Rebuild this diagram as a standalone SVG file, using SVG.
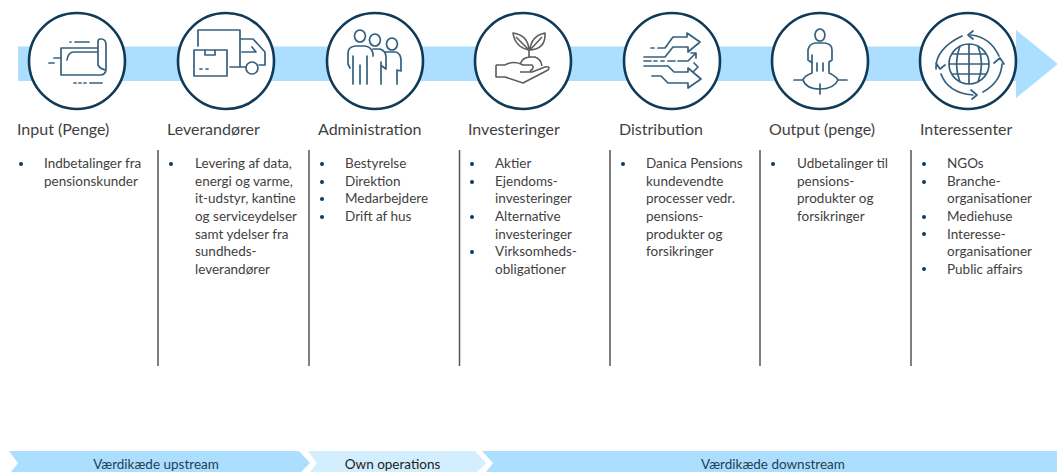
<svg xmlns="http://www.w3.org/2000/svg" width="1057" height="472" viewBox="0 0 1057 472">
<style>
text{font-family:"Lato","Carlito","Liberation Sans",sans-serif;fill:#3f3f3f}
.h{font-size:16px}
.b{font-size:13.5px}
.f{font-size:13.500px;text-anchor:middle;fill:#26404f}
.c{fill:#fff;stroke:#0f3a58;stroke-width:2.6}
.i{fill:none;stroke:#34607f;stroke-width:1.700;stroke-linecap:round;stroke-linejoin:round}
.g{fill:none;stroke:#5c5c5c;stroke-width:1.600;stroke-linejoin:round}
.d{fill:#12395a}
.v{stroke:#555;stroke-width:1.500}
</style>
<rect width="1057" height="472" fill="#fff"/>
<g id="flow-arrow"><path d="M18 46.500H1016V30L1058 64L1016 98V81H18Z" fill="#abdeff"/></g>
<g id="node-input"><circle class="c" cx="77" cy="61" r="48"/>
<path class="i" d="M98 48H61V75H100Q106 75 106 69V45Q106 39 101 39H100Q98 39 98 42V65Q100 69 106 70M98 52H74Q68 52 67 60M75 42H89M70 42H71M54 58H61M49 63H54M74 83H76M79 83H81M84 83H86M90 83H102"/></g>
<g id="node-leverandorer"><circle class="c" cx="226" cy="61" r="48"/>
<path class="i" d="M198 46V30H240V67M230 67H246M194 50H227V76H194ZM205 50V55H215V50M200 69H202M206 69H208M240 39H253L265 52V65H259M242 52H256L252 47"/><circle class="i" cx="252" cy="68" r="6"/></g>
<g id="node-administration"><circle class="c" cx="375" cy="61" r="48"/>
<path class="i" d="M360 30a5.500 6 0 1 1 -0.100 0ZM375 34a5.500 6 0 1 1 -0.100 0ZM392 38a5.500 6 0 1 1 -0.100 0ZM350 68L348 64V53Q348 47 355 46H365Q372 47 373 54V56M353 84V56M360 84V65M367 84V56M373 49H380Q386 51 386 57V69L382 66M381 62V84M385 52H396Q401 54 401 60V71L397 70V84"/></g>
<g id="node-investeringer"><circle class="c" cx="523" cy="61" r="48"/>
<path class="g" d="M496 65V77H505L523 83L548 70Q551 66 545 67L532 72H520M505 65H496M505 65Q514 60 523 65H532Q535 68 530 71M520 64Q523 57 530 57H535Q541 59 542 66M529 57V50M529 50Q515 47 513 33Q528 35 529 50ZM530 50Q531 36 545 33Q546 49 530 50ZM516 37L529 50M542 37L530 50"/></g>
<g id="node-distribution"><circle class="c" cx="672" cy="61" r="48"/>
<path class="i" d="M651 48H654M658 48H665L673 37H687V33L700 42L688 52V47H673L665 57H644M644 61H651M654 61H657M661 61H664M668 61H675M678 61H688L695 54M691 53H696V58M644 66H668L674 72H688V68L701 79L688 88V83H668L661 76H652M694 63L698 67L694 71"/></g>
<g id="node-output"><circle class="c" cx="820" cy="61" r="48"/>
<path class="i" d="M820 29a5 6 0 1 1 -0.100 0ZM811 62L808 60V50Q809 44 815 43H825Q832 44 832 50V60L829 62V72M812 55V73M817 63V71M823 63V71M794 80H803M838 80H847M820 84V94M803 80Q804 76 812 73M829 73Q836 76 838 80Q834 89 820 89Q806 89 803 80"/></g>
<g id="node-interessenter"><circle class="c" cx="968" cy="61" r="48"/>
<path class="i" d="M949 64a20 20 0 1 0 40 0a20 20 0 1 0 -40 0ZM969 44V84M960 46Q953 64 960 82M978 46Q985 64 978 82M952 54H986M952 74H986M949 64H989M971 35Q990 37 999 56M973 31L968 35L973 39M994 63L1000 58L1004 64M1002 64Q1001 82 983 92M936 69Q935 49 962 36M936 63L940 69L945 65M941 74Q948 93 973 95M971 90L977 95L972 99"/></g>
<g id="connectors"><path class="v" d="M158 150V366M309 150V366M459.500 150V366M610 150V366M760 150V366M911 150V366"/></g>
<g id="col-input"><text class="h" x="17" y="135">Input (Penge)</text><circle class="d" cx="21" cy="164" r="2"/><text class="b" x="44" y="168">Indbetalinger fra</text><text class="b" x="44" y="186">pensionskunder</text></g>
<g id="col-leverandorer"><text class="h" x="167" y="135">Leverandører</text><circle class="d" cx="171" cy="164" r="2"/><text class="b" x="195" y="168">Levering af data,</text><text class="b" x="195" y="186">energi og varme,</text><text class="b" x="195" y="203">it-udstyr, kantine</text><text class="b" x="195" y="221">og serviceydelser</text><text class="b" x="195" y="239">samt ydelser fra</text><text class="b" x="195" y="256">sundheds-</text><text class="b" x="195" y="274">leverandører</text></g>
<g id="col-administration"><text class="h" x="318" y="135">Administration</text><g class="d"><circle cx="322" cy="164" r="2"/><circle cx="322" cy="182" r="2"/><circle cx="322" cy="199" r="2"/><circle cx="322" cy="217" r="2"/></g><text class="b" x="345" y="168">Bestyrelse</text><text class="b" x="345" y="186">Direktion</text><text class="b" x="345" y="203">Medarbejdere</text><text class="b" x="345" y="221">Drift af hus</text></g>
<g id="col-investeringer"><text class="h" x="468" y="135">Investeringer</text><g class="d"><circle cx="472" cy="164" r="2"/><circle cx="472" cy="182" r="2"/><circle cx="472" cy="217" r="2"/><circle cx="472" cy="252" r="2"/></g><text class="b" x="495" y="168">Aktier</text><text class="b" x="495" y="186">Ejendoms-</text><text class="b" x="495" y="203">investeringer</text><text class="b" x="495" y="221">Alternative</text><text class="b" x="495" y="239">investeringer</text><text class="b" x="495" y="256">Virksomheds-</text><text class="b" x="495" y="274">obligationer</text></g>
<g id="col-distribution"><text class="h" x="619" y="135">Distribution</text><circle class="d" cx="623" cy="164" r="2"/><text class="b" x="646" y="168">Danica Pensions</text><text class="b" x="646" y="186">kundevendte</text><text class="b" x="646" y="203">processer vedr.</text><text class="b" x="646" y="221">pensions-</text><text class="b" x="646" y="239">produkter og</text><text class="b" x="646" y="256">forsikringer</text></g>
<g id="col-output"><text class="h" x="769" y="135">Output (penge)</text><circle class="d" cx="773" cy="164" r="2"/><text class="b" x="797" y="168">Udbetalinger til</text><text class="b" x="797" y="186">pensions-</text><text class="b" x="797" y="203">produkter og</text><text class="b" x="797" y="221">forsikringer</text></g>
<g id="col-interessenter"><text class="h" x="920" y="135">Interessenter</text><g class="d"><circle cx="924" cy="164" r="2"/><circle cx="924" cy="182" r="2"/><circle cx="924" cy="217" r="2"/><circle cx="924" cy="234" r="2"/><circle cx="924" cy="269" r="2"/></g><text class="b" x="947" y="168">NGOs</text><text class="b" x="947" y="186">Branche-</text><text class="b" x="947" y="203">organisationer</text><text class="b" x="947" y="221">Mediehuse</text><text class="b" x="947" y="239">Interesse-</text><text class="b" x="947" y="256">organisationer</text><text class="b" x="947" y="274">Public affairs</text></g>
<g id="band-upstream"><path d="M9 451H299L310 463L301 472H11L18 463Z" fill="#abdeff"/><text class="f" x="156" y="468.500">Værdikæde upstream</text></g>
<g id="band-own"><path d="M308 451H475L486 463L477 472H310L317 463Z" fill="#d3eefe"/><text class="f" x="392.500" y="468.500" style="fill:#222">Own operations</text></g>
<g id="band-downstream"><path d="M482 451H1057V472H486L493 463Z" fill="#abdeff"/><text class="f" x="773" y="468.500">Værdikæde downstream</text></g>
</svg>
